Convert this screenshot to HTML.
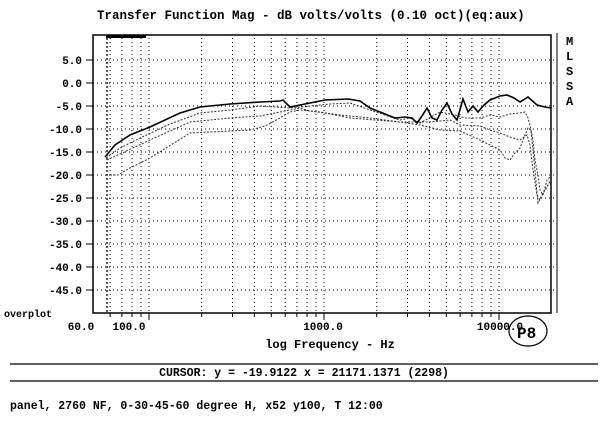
<!DOCTYPE html><html><head><style>
body{margin:0;background:#fff;width:608px;height:416px;overflow:hidden}
text{font-family:"Liberation Mono",monospace;font-weight:bold;fill:#000}
</style></head><body>
<svg width="608" height="416" xmlns="http://www.w3.org/2000/svg" id="s">
<text x="97" y="19" font-size="12.5">Transfer Function Mag - dB volts/volts (0.10 oct)(eq:aux)</text>
<g id="grid" stroke="#000" stroke-width="1" stroke-dasharray="1,3"></g>
<line x1="107" y1="38" x2="107" y2="313" stroke="#000" stroke-width="1.3" stroke-dasharray="2,2"/>
<rect x="93" y="35" width="458" height="278" fill="none" stroke="#000" stroke-width="1.5"/>
<line x1="557" y1="33" x2="557" y2="313" stroke="#000" stroke-width="1"/>
<rect x="106" y="35" width="40" height="3" fill="#000"/>
<g id="ylab" font-size="11" text-anchor="end"></g>
<text x="4" y="317" font-size="10">overplot</text>
<g id="xt" stroke="#000"></g>
<g font-size="11" text-anchor="middle">
<text x="81" y="330">60.0</text><text x="129" y="330">100.0</text>
<text x="323" y="330">1000.0</text><text x="500" y="330">10000.0</text>
<text x="330" y="348" font-size="12">log Frequency - Hz</text>
</g>
<g font-size="12"><text x="566" y="45">M</text><text x="566" y="60">L</text><text x="566" y="75">S</text><text x="566" y="90">S</text><text x="566" y="105">A</text></g>
<ellipse cx="528" cy="331" rx="19" ry="15" fill="none" stroke="#000" stroke-width="1.2"/>
<text x="517" y="338" font-size="16" font-weight="normal" font-family="Liberation Sans,sans-serif">P8</text>
<line x1="10" y1="364" x2="598" y2="364" stroke="#000" stroke-width="1.2"/>
<line x1="10" y1="381" x2="598" y2="381" stroke="#000" stroke-width="1.2"/>
<text x="304" y="376" font-size="11.5" text-anchor="middle">CURSOR: y = -19.9122 x = 21171.1371 (2298)</text>
<text x="10" y="409" font-size="11.5">panel, 2760 NF, 0-30-45-60 degree H, x52 y100, T 12:00</text>
<polyline fill="none" stroke="#333" stroke-width="1" stroke-dasharray="2,1.5" points="110,175 118,175 130,168 150,158 190,133 230,131 250,130 265,126 280,118 290,112 300,110 320,112 350,118 400,122 420,125 440,130 460,131 480,140 490,145 500,150 505,158 510,160 515,153 520,148 525,135 528,128 531,130 535,170 538,203 542,195 548,185 551,180"/>
<polyline fill="none" stroke="#333" stroke-width="1" stroke-dasharray="2,1.5" points="107,160 120,154 150,140 190,122 230,118 260,116 280,112 300,108 310,111 340,115 370,118 400,122 430,122 450,120 460,125 480,126 490,130 500,133 510,137 520,140 527,135 530,145 533,170 537,195 540,200 545,190 551,180"/>
<polyline fill="none" stroke="#333" stroke-width="1" stroke-dasharray="2,1.5" points="106,158 120,148 140,138 170,124 200,113 230,110 260,106 290,108 300,107 330,104 350,103 370,110 400,120 410,118 420,123 440,112 455,115 465,118 480,118 490,115 500,117 510,114 520,113 525,112 528,118 530,125 533,140 535,160 538,175 540,190 543,195 547,180 551,176"/>
<polyline fill="none" stroke="#000" stroke-width="1.6" points="105,157 115,145 130,135 150,127 180,113 200,107 230,104 260,102 280,101 283,100 290,107 300,105 325,100 348,99 360,101 370,108 385,114 395,118 405,117 412,118 417,123 422,116 427,108 432,118 437,120 442,110 447,103 452,114 457,120 463,99 468,112 473,106 478,112 484,105 490,100 500,96 507,95 514,98 520,102 528,97 537,105 545,107 551,108"/>
</svg>
<script>
var ns="http://www.w3.org/2000/svg",g=document.getElementById("grid"),yl=document.getElementById("ylab"),xt=document.getElementById("xt");
function L(p,a,b,c,d,w){var l=document.createElementNS(ns,"line");l.setAttribute("x1",a);l.setAttribute("y1",b);l.setAttribute("x2",c);l.setAttribute("y2",d);if(w)l.setAttribute("stroke-width",w);p.appendChild(l);}
for(var i=0;i<11;i++){var y=60+i*23;L(g,93,y,557,y);L(yl,86,y,93,y);yl.lastChild.setAttribute("stroke","#000");
var t=document.createElementNS(ns,"text");t.setAttribute("x",82);t.setAttribute("y",y+4);t.textContent=(5-5*i).toFixed(1);yl.appendChild(t);}
function X(f){return 149+175*(Math.log10(f)-2);}
var fs=[60,70,80,90,100,200,300,400,500,600,700,800,900,1000,2000,3000,4000,5000,6000,7000,8000,9000,10000,20000];
fs.forEach(function(f){var x=X(f);if(x<551){L(g,x,38,x,313);L(xt,x,313,x,f==100||f==1000||f==10000?320:317);}});
</script>
</body></html>
